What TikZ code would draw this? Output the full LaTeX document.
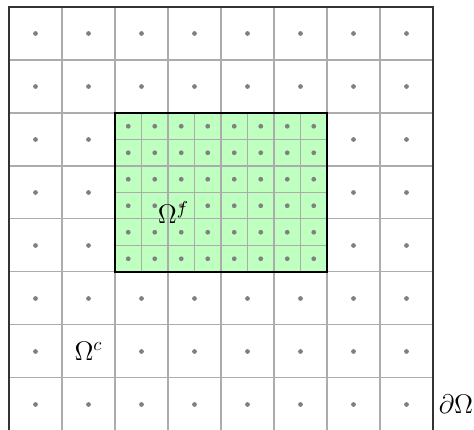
\documentclass[tikz,border=0pt]{standalone}
\usepackage{amsmath}
\usepackage{amssymb}
\usepackage{tikz}
\usetikzlibrary{positioning}

\begin{document}
\begin{tikzpicture}[
    x=1cm, y=1cm,
    gridline/.style={draw=gray!65, line width=0.55pt},
    cellpt/.style={circle, fill=gray, inner sep=0pt, minimum size=0.09cm},
    region/.style={draw=black, line width=0.7pt},
    lbl/.style={font=\Large, inner sep=0pt}
]
\useasboundingbox (-0.17,0.02) rectangle (8.774,8.132);

% refined patch
\fill[green!25] (2,3) rectangle (6,6);
\draw[gridline, step=0.5] (2,3) grid (6,6);

% coarse mesh
\draw[gridline] (0,0) grid (8,8);
\draw[region, draw=black!80] (0,0) rectangle (8,8);
\draw[region] (2,3) rectangle (6,6);

% coarse cell centres
\foreach \i in {0,...,7}{
  \foreach \j in {0,...,7}{
    \pgfmathtruncatemacro{\hole}{or(and(and(\i>1,\i<6),and(\j>2,\j<6)),and(\i==1,\j==1))}
    \ifnum\hole=0
      \node[cellpt] (c-\i-\j) at (\i+0.5,\j+0.5) {};
    \fi
  }
}

% fine cell centres
\foreach \i in {0,...,7}{
  \foreach \j in {0,...,5}{
    \node[cellpt] (f-\i-\j) at (2.25+0.5*\i,3.25+0.5*\j) {};
  }
}

\node[lbl] (omegaf) at (3.1,4.12) {$\Omega^f$};
\node[lbl] (omegac) at (1.5,1.5) {$\Omega^c$};
\node[lbl, anchor=east] (bnd) at (8.765,0.5) {$\partial\Omega$};
\end{tikzpicture}
\end{document}
